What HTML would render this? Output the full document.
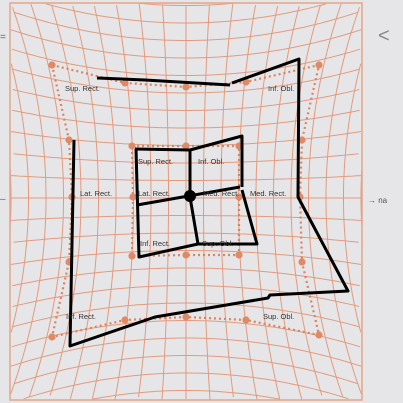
<!DOCTYPE html>
<html><head><meta charset="utf-8"><style>
html,body{margin:0;padding:0;background:#e6e6e8;overflow:hidden;width:403px;height:403px;}
svg{display:block;font-family:"Liberation Sans",sans-serif;}
</style></head><body>
<svg id="c" width="403" height="403" viewBox="0 0 403 403">
<rect x="0" y="0" width="403" height="403" fill="#e6e6e8"/>
<g id="grid"></g>
<rect x="10" y="3" width="352" height="397" fill="none" stroke="#e4a58a" stroke-width="1.5"/>
<g id="dots"></g>
<g id="black"></g>
<g id="labels" font-size="7.5" fill="#333"></g>
<text x="0" y="40" font-size="10" fill="#666">=</text>
<text x="0" y="202" font-size="10" fill="#666">–</text>
<text x="378" y="42" font-size="20" fill="#888">&lt;</text>
<text x="368" y="203" font-size="8" fill="#555">→  na</text>
</svg>
<script>
const outerX=[52,125,186,246,319,302,300,302,319,246,186,125,52,69,72,69];
const outerY=[65,83,87,82,65,140,197,262,335,320,317,320,337,262,197,140];
const innerX=[132,186,239,239,239,186,132,133];
const innerY=[146,146,146,197,255,255,256,197];
const blackLines=[
 [[97,78],[145,80],[230,85]],
 [[232,83],[299,59],[298,197],[348,291],[270,295],[268,298],[155,317],[70,346],[74,140]],
 [[135,149],[190,150],[242,136],[242,187]],
 [[137,205],[240,187]],
 [[190,150],[190,197],[198,244]],
 [[136,149],[139,257],[198,244],[257,244],[242,190]]
];
const labelText=["Sup. Rect.","Inf. Obl.","Sup. Rect.","Inf. Obl.","Lat. Rect.","Lat. Rect.","Med. Rect.","Med. Rect.","Inf. Rect.","Sup. Obl.","Inf. Rect.","Sup. Obl."];
const labelX=[65,268,138,198,80,138,250,203,66,263,140,202];
const labelY=[91,91,164,164,196,196,196,196,319,319,246,246];
const NS="http://www.w3.org/2000/svg";
function mk(tag,attrs,parent){const e=document.createElementNS(NS,tag);for(const k in attrs)e.setAttribute(k,attrs[k]);parent.appendChild(e);return e;}
const cx=186,cy=198,sx=17.5,sy=17.5,k=0.0028;
function map(u,v){return [cx+sx*u*(1+k*v*v),cy+sy*v*(1+k*u*u)];}
function inside(p){return p[0]>=10&&p[0]<=362&&p[1]>=3&&p[1]<=400;}
const grid=document.getElementById('grid');
const gg=mk('g',{stroke:'#e39a7c','stroke-width':'1','fill':'none'},grid);
function line(fn,name){
 let d='',pen=false;
 for(let t=-14;t<=14;t+=0.25){const p=fn(t);
  if(inside(p)){d+=(pen?'L':'M')+p[0].toFixed(1)+','+p[1].toFixed(1);pen=true;}else pen=false;}
 if(!d)return;
 const e=mk('path',{d:d},gg);
 
 
}
for(let i=-12;i<=12;i++){
 line(t=>map(i,t),'grid-vertical-line');
 line(t=>map(t,i),'grid-horizontal-line');
}
const dots=document.getElementById('dots');
function ring(xs,ys,name){
 let pts=xs.map((x,i)=>x+','+ys[i]).join(' ');
 const pg=mk('polygon',{points:pts,fill:'none',stroke:'#d98460','stroke-width':'2.2','stroke-dasharray':'2,3'},dots);
 
 
 xs.forEach((x,i)=>{const c=mk('circle',{cx:x,cy:ys[i],r:3.6,fill:'#de8a66'},dots);
  
  });
}
ring(outerX,outerY,'outer');ring(innerX,innerY,'inner');
const bk=document.getElementById('black');
blackLines.forEach(l=>{const p=mk('polyline',{points:l.map(q=>q.join(',')).join(' '),fill:'none',stroke:'#000','stroke-width':'3','stroke-linejoin':'round'},bk);
 
 });
const cd=mk('circle',{cx:190,cy:196,r:6,fill:'#000'},bk);


const lb=document.getElementById('labels');
labelText.forEach((t,i)=>{const e=mk('text',{x:labelX[i],y:labelY[i]},lb);e.textContent=t;
 
 });
</script>
</body></html>
